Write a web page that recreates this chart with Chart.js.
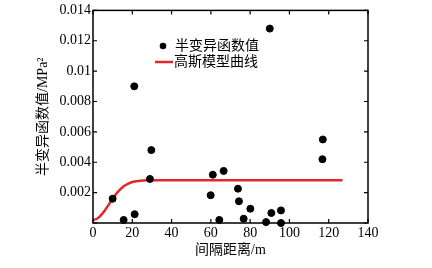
<!DOCTYPE html>
<html>
<head>
<meta charset="utf-8">
<script src="https://cdn.jsdelivr.net/npm/chart.js@4.4.0/dist/chart.umd.min.js"></script>
<style>
  body { margin: 0; background: #fff; }
  canvas { display: block; }
</style>
</head>
<body>
<canvas id="myChart" width="432" height="268"></canvas>
<script>
// données
const lagDist = [10.0, 15.6, 21.2, 21.0, 29.0, 29.7, 59.9, 61.0, 64.3, 66.5, 73.8, 74.3, 76.7, 80.1, 88.1, 90.0, 90.8, 95.7, 95.7, 116.8, 117.0];
const semiVar = [0.0016, 0.0002, 0.00058, 0.009, 0.0029, 0.0048, 0.00183, 0.00318, 0.0002, 0.00343, 0.00226, 0.00143, 0.00028, 0.00094, 0.00006, 0.0128, 0.00066, 0.00083, 0.0, 0.0042, 0.0055];

// courbe du modèle gaussien (lue point par point)
const modelLag = [0, 2, 4, 6, 8, 10, 12, 14, 16, 18, 20, 22, 24, 26, 30, 40, 60, 80, 100, 127];
const modelGamma = [0.0002, 0.00028, 0.0005, 0.00083, 0.00121, 0.0016, 0.00195, 0.00223, 0.00245, 0.0026, 0.0027, 0.00275, 0.00279, 0.0028, 0.00282, 0.00282, 0.00282, 0.00282, 0.00282, 0.00282];

const xTicks = [0, 20, 40, 60, 80, 100, 120, 140];
const yTicks = [0, 0.002, 0.004, 0.006, 0.008, 0.01, 0.012, 0.014];

const seriesNames = ['半变异函数值', '高斯模型曲线'];

const FONT = '"Liberation Serif", "Noto Sans CJK SC", serif';

// cadre + graduations vers l'intérieur + légende
const framePlugin = {
    id: 'frame',
    afterDraw: function(chart) {
        const ctx = chart.ctx;
        const a = chart.chartArea;
        const xs = chart.scales.x;
        const ys = chart.scales.y;
        ctx.save();
        ctx.strokeStyle = '#000';
        ctx.lineWidth = 1.5;
        ctx.strokeRect(a.left, a.top, a.right - a.left, a.bottom - a.top);
        ctx.lineWidth = 1.2;
        ctx.beginPath();
        xTicks.forEach(function(v) {
            const px = xs.getPixelForValue(v);
            ctx.moveTo(px, a.bottom); ctx.lineTo(px, a.bottom - 4);
            ctx.moveTo(px, a.top); ctx.lineTo(px, a.top + 4);
        });
        yTicks.forEach(function(v) {
            const py = ys.getPixelForValue(v);
            ctx.moveTo(a.left, py); ctx.lineTo(a.left + 4, py);
            ctx.moveTo(a.right, py); ctx.lineTo(a.right - 4, py);
        });
        ctx.stroke();

        // légende
        ctx.font = '14px ' + FONT;
        ctx.fillStyle = '#000';
        ctx.textBaseline = 'middle';
        ctx.beginPath();
        ctx.arc(163, 46, 3.3, 0, Math.PI * 2);
        ctx.fill();
        ctx.fillText(seriesNames[0], 175, 46);
        ctx.strokeStyle = '#e4252b';
        ctx.lineWidth = 2.5;
        ctx.beginPath();
        ctx.moveTo(155, 62); ctx.lineTo(173, 62);
        ctx.stroke();
        ctx.fillText(seriesNames[1], 174, 62);
        ctx.restore();
    }
};

const ctx = document.getElementById('myChart').getContext('2d');
new Chart(ctx, {
    type: 'scatter',
    data: {
        datasets: [{
            label: seriesNames[0],
            data: lagDist.map(function(x, i) { return { x: x, y: semiVar[i] }; }),
            backgroundColor: '#000',
            borderColor: '#000',
            pointRadius: 3.5,
            clip: false
        }, {
            label: seriesNames[1],
            data: modelLag.map(function(x, i) { return { x: x, y: modelGamma[i] }; }),
            showLine: true,
            borderColor: '#e4252b',
            borderWidth: 2.5,
            pointRadius: 0,
            cubicInterpolationMode: 'monotone',
            clip: false
        }]
    },
    plugins: [framePlugin],
    options: {
        responsive: false,
        animation: false,
        layout: { padding: { left: 0, right: 64, top: 4, bottom: 0 } },
        plugins: {
            legend: { display: false },
            tooltip: { enabled: false }
        },
        scales: {
            x: {
                type: 'linear',
                min: 0,
                max: 140,
                afterFit: function(s) { s.height = 45; },
                afterBuildTicks: function(s) { s.ticks = xTicks.map(function(v) { return { value: v }; }); },
                grid: { display: false, drawTicks: false },
                border: { display: false },
                ticks: {
                    padding: 2,
                    color: '#000',
                    font: { family: FONT, size: 14 },
                    maxRotation: 0
                },
                title: {
                    display: true,
                    text: '间隔距离/m',
                    color: '#000',
                    font: { family: FONT, size: 14 },
                    padding: { top: 0, bottom: 9 }
                }
            },
            y: {
                type: 'linear',
                min: 0,
                max: 0.014,
                afterFit: function(s) { s.width = 93; },
                afterBuildTicks: function(s) { s.ticks = yTicks.map(function(v) { return { value: v }; }); },
                grid: { display: false, drawTicks: false },
                border: { display: false },
                ticks: {
                    padding: 2,
                    color: '#000',
                    font: { family: FONT, size: 14 },
                    callback: function(v) { return v === 0 ? '' : String(+v.toFixed(3)); }
                },
                title: {
                    display: true,
                    text: '半变异函数值/MPa²',
                    color: '#000',
                    font: { family: FONT, size: 14 },
                    padding: { top: 35, bottom: 0 }
                }
            }
        }
    }
});
</script>
</body>
</html>
